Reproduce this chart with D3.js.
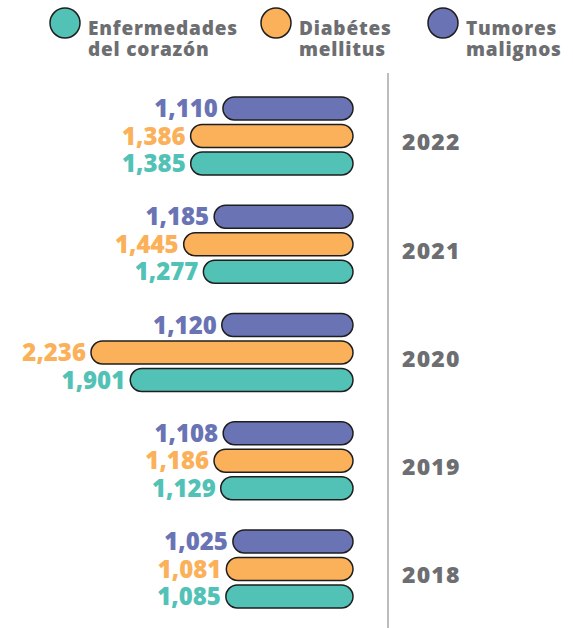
<!DOCTYPE html>
<html>
<head>
<meta charset="utf-8">
<script src="https://cdn.jsdelivr.net/npm/d3@7"></script>
<style>
  html, body { margin: 0; padding: 0; background: #fff; }
  svg { display: block; font-family: "Open Sans", sans-serif; }
</style>
</head>
<body>
<div id="chart"></div>
<script>
// values
var years = ["2022", "2021", "2020", "2019", "2018"];
var series = ["Tumores malignos", "Diabétes mellitus", "Enfermedades del corazón"];
var tumores = [1110, 1185, 1120, 1108, 1025];
var diabetes = [1386, 1445, 2236, 1186, 1081];
var corazon = [1385, 1277, 1901, 1129, 1085];
var legendLines = [["Enfermedades", "del corazón"], ["Diabétes", "mellitus"], ["Tumores", "malignos"]];
var legendKeys = ["Enfermedades del corazón", "Diabétes mellitus", "Tumores malignos"];

var colors = {
    "Enfermedades del corazón": "#52c2b6",
    "Diabétes mellitus": "#fbb05a",
    "Tumores malignos": "#6a74b5"
};
var grey = "#6d6e71";

var width = 573, height = 628;

var svg = d3.select("#chart").append("svg")
    .attr("width", width)
    .attr("height", height);

// bars grow to the left from x = 353
var x = d3.scaleLinear()
    .domain([0, d3.max(diabetes)])
    .range([353, 91]);

var yGroup = d3.scalePoint()
    .domain(years)
    .range([136, 569]);

var yRow = d3.scalePoint()
    .domain(series)
    .range([-27.5, 27.5]);

var barH = 23;

var rows = [];
years.forEach(function (yr, i) {
    rows.push({year: yr, key: series[0], value: tumores[i]});
    rows.push({year: yr, key: series[1], value: diabetes[i]});
    rows.push({year: yr, key: series[2], value: corazon[i]});
});

// divider
svg.append("line")
    .attr("x1", 388).attr("x2", 388)
    .attr("y1", 73).attr("y2", height)
    .attr("stroke", "#a7a7a7")
    .attr("stroke-width", 1.5);

var bars = svg.append("g").attr("class", "bars");

bars.selectAll("rect")
    .data(rows)
    .enter().append("rect")
    .attr("x", function (d) { return x(d.value); })
    .attr("y", function (d) { return yGroup(d.year) + yRow(d.key) - barH / 2; })
    .attr("width", function (d) { return x(0) - x(d.value); })
    .attr("height", barH)
    .attr("rx", barH / 2)
    .attr("fill", function (d) { return colors[d.key]; })
    .attr("stroke", "#1e1e1e")
    .attr("stroke-width", 1.5);

bars.selectAll("text")
    .data(rows)
    .enter().append("text")
    .attr("x", function (d) { return x(d.value) - 5; })
    .attr("y", function (d) { return yGroup(d.year) + yRow(d.key); })
    .attr("dy", "0.36em")
    .attr("text-anchor", "end")
    .attr("fill", function (d) { return colors[d.key]; })
    .style("font-size", "24px")
    .style("font-weight", 800)
    .text(function (d) { return d3.format(",")(d.value); });

// year labels
svg.append("g").selectAll("text")
    .data(years)
    .enter().append("text")
    .attr("x", 402)
    .attr("y", function (d) { return yGroup(d) + 6; })
    .attr("dy", "0.36em")
    .attr("fill", grey)
    .style("font-size", "23px")
    .style("font-weight", 800)
    .style("letter-spacing", "1.2px")
    .text(function (d) { return d; });

// legend
var legendX = [65, 276, 443];
var legend = svg.append("g").selectAll("g")
    .data(legendKeys)
    .enter().append("g")
    .attr("transform", function (d, i) { return "translate(" + legendX[i] + ",23)"; });

legend.append("circle")
    .attr("r", 15)
    .attr("fill", function (d) { return colors[d]; })
    .attr("stroke", "#1e1e1e")
    .attr("stroke-width", 1.5);

legend.append("text")
    .attr("x", 23)
    .attr("y", 12)
    .attr("fill", grey)
    .style("font-size", "19px")
    .style("font-weight", 800)
    .style("letter-spacing", "0.8px")
    .selectAll("tspan")
    .data(function (d, i) { return legendLines[i]; })
    .enter().append("tspan")
    .attr("x", 23)
    .attr("dy", function (d, i) { return i ? 21 : 0; })
    .text(function (d) { return d; });
</script>
</body>
</html>
